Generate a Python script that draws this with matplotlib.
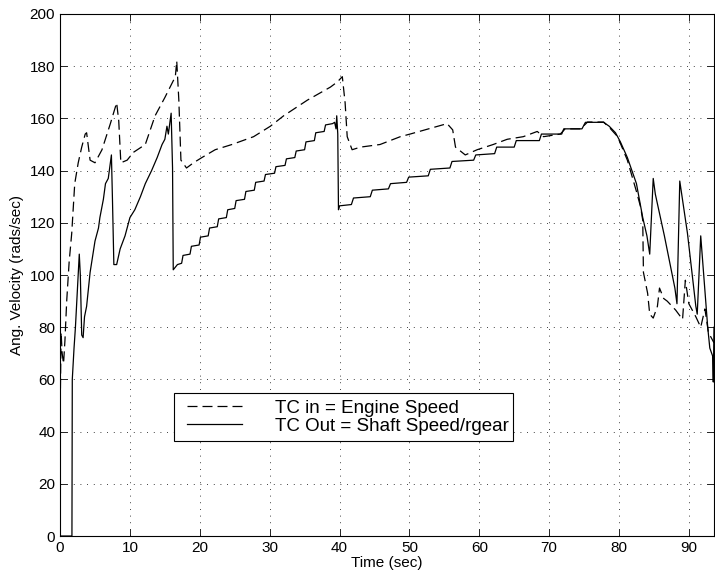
import numpy as np
import matplotlib.pyplot as plt
from matplotlib.legend_handler import HandlerLine2D

plt.rcParams['font.family'] = ['Liberation Sans', 'DejaVu Sans']

# torque converter input (engine speed), rad/s
t_in = [0, 0.15, 0.3, 0.5, 0.7, 0.95, 1.3, 1.67, 2.1, 2.6, 3.1, 3.6, 3.8, 4.3,
        5.0, 6.0, 7.2, 8.1, 8.4, 8.7, 9.6, 10.5, 12.2, 13.6, 15.0, 16.5, 16.7,
        17.0, 17.3, 18.1, 19.1, 20.3, 22.2, 24.6, 27.7, 30.1, 32.0, 35.4, 38.7,
        39.7, 40.4, 40.8, 41.1, 41.8, 43.0, 45.8, 48.7, 50.1, 55.4, 56.2, 56.6,
        58.0, 59.7, 62.0, 64.0, 66.3, 68.3, 69.2, 71.6, 72.3, 74.5, 75.5, 77.8,
        78.8, 79.8, 81.2, 82.5, 83.1, 83.4, 83.5, 84.1, 84.4, 84.9, 85.5, 85.8,
        86.4, 86.9, 88.1, 89.1, 89.5, 90.0, 91.0, 91.7, 92.3, 92.8, 93.6]
w_in = [45, 78, 70, 66, 75, 90, 105, 116, 135, 143, 149, 154, 154.5, 144,
        143, 148, 158, 166, 159, 143, 144, 147, 150, 161, 168, 176, 182,
        167, 144, 141, 143, 145, 148, 150, 153, 157, 161, 167, 172,
        174, 176, 166, 153, 148, 149, 150, 153, 154, 158, 155.6, 149,
        146, 148, 150, 152, 153, 155, 153, 154, 156, 156, 158.6, 158.6,
        156, 153, 144, 132, 126, 121, 101, 93, 85, 83.5, 88, 95,
        91, 90, 86.6, 83, 98, 89, 84, 80, 87, 78, 74]

# torque converter output (shaft speed / gear ratio), rad/s
t_out = [0, 1.7, 1.75, 2.0, 2.2, 2.5, 2.75, 2.9, 3.1, 3.3, 3.5, 3.8, 4.3, 5.0,
         5.5, 5.7, 6.2, 6.5, 6.9, 7.2, 7.35, 7.5, 7.7, 8.1, 8.6, 9.3, 10.0,
         10.7, 11.5, 12.2, 13.1, 13.9, 14.6, 15.0, 15.3, 15.5, 15.9, 16.1,
         16.2, 16.8, 17.4, 17.6, 18.6, 18.8, 19.9, 20.1, 21.2, 21.4, 22.5,
         22.7, 23.8, 24.0, 25.0, 25.2, 26.4, 26.6, 27.8, 28.0, 29.2, 29.4,
         30.7, 30.9, 32.2, 32.4, 33.6, 33.8, 35.0, 35.2, 36.4, 36.6, 37.8,
         38.0, 39.0, 39.3, 39.5, 39.6, 39.75, 39.85, 40.0, 41.7, 42.0, 44.4,
         44.7, 47.0, 47.3, 49.6, 49.9, 52.7, 53.0, 55.8, 56.1, 59.2, 59.5,
         62.2, 62.5, 65.0, 65.3, 68.6, 68.9, 71.8, 72.1, 74.7, 75.2, 77.8,
         78.6, 79.5, 80.2, 81.2, 82.5, 83.4, 84.0, 84.4, 84.9, 85.2, 86.5,
         88.0, 88.3, 88.7, 89.8, 91.0, 91.2, 91.7, 92.1, 92.7, 93.0, 93.4,
         93.5, 93.6]
w_out = [0, 0, 60, 72, 80, 95, 108, 100, 77, 76, 84, 88, 101, 113,
         118, 122, 129, 135, 137, 143, 146, 129, 104, 104, 110, 115, 122,
         125, 130, 135, 140, 145, 150, 152, 157, 154, 162, 141,
         102, 104, 104.5, 107.5, 108, 111, 111.5, 114.5, 115, 118, 118.5,
         121.5, 122, 125, 125.5, 128.5, 129, 132, 132.5, 135.5, 136, 138.5,
         139, 141.5, 142, 144.5, 145, 147.5, 148, 151, 151.5, 154.5, 155,
         157.5, 158, 158.5, 156, 161, 154, 125, 126.5, 127, 129.5, 130,
         132.5, 133, 135, 135.5, 137.5, 138, 140.5, 141, 143.5, 144, 146,
         146.5, 149, 149, 151.5, 151.5, 154, 154, 156, 156, 158.5, 158.5,
         157, 154.5, 151, 145, 135, 122, 115, 108, 137, 131, 115,
         95, 89, 136, 116, 88, 85, 115, 101, 80, 72, 69,
         59, 80]

fig = plt.figure(figsize=(7.15, 5.76), dpi=100)
ax = fig.add_axes([0.084, 0.0694, 0.9146, 0.9063])

ax.plot(t_in, w_in, color='black', linestyle=(0, (8, 4)), linewidth=0.9,
        label='TC in = Engine Speed')
ax.plot(t_out, w_out, color='black', linestyle='-', linewidth=0.9,
        label='TC Out = Shaft Speed/rgear')

ax.set_xlim(0, 93.6)
ax.set_ylim(0, 200)
ax.set_xticks(np.arange(0, 91, 10))
ax.set_yticks(np.arange(0, 201, 20))
ax.grid(True, color='black', linestyle=(0, (1, 7)), linewidth=0.6)
ax.tick_params(direction='in', top=True, right=True, length=5,
               labelsize=11, width=0.6)
for s in ax.spines.values():
    s.set_linewidth(0.8)

ax.set_xlabel('Time (sec)', fontsize=11, labelpad=1)
ax.set_ylabel('Ang. Velocity (rads/sec)', fontsize=11, labelpad=4)

leg = ax.legend(loc='upper left', bbox_to_anchor=(0.174, 0.0, 0.519, 0.274),
                mode='expand', borderaxespad=0, fontsize=13.5,
                handlelength=3.27, handletextpad=1.76, labelspacing=0.05,
                borderpad=0.35, fancybox=False, framealpha=1,
                edgecolor='black',
                handler_map={plt.Line2D: HandlerLine2D(xpad=0.34)})
leg.get_frame().set_linewidth(0.8)

fig.savefig('out.png', dpi=100)
